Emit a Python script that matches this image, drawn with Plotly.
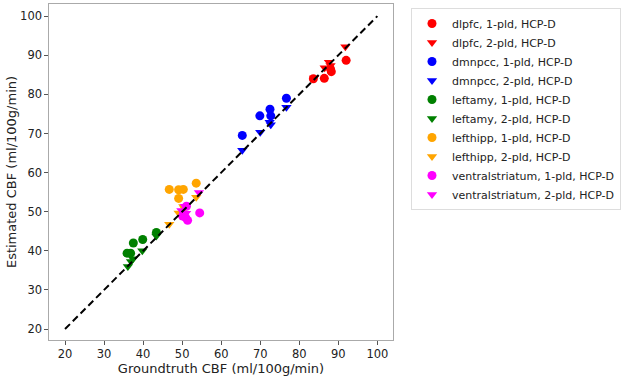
import plotly.graph_objects as go

# Groundtruth (x) and estimated (y) CBF values per region / pld
dlpfc_1_x = [83.6, 86.4, 88.2, 88.0, 92.0]
dlpfc_1_y = [84.0, 84.1, 85.8, 86.5, 88.7]
dlpfc_2_x = [83.8, 86.5, 87.6, 88.0, 91.8]
dlpfc_2_y = [84.2, 86.8, 88.2, 87.4, 92.2]

dmnpcc_1_x = [65.4, 69.9, 72.5, 72.7, 76.7]
dmnpcc_1_y = [69.5, 74.5, 76.2, 74.5, 79.0]
dmnpcc_2_x = [65.4, 70.0, 72.4, 72.7, 76.7]
dmnpcc_2_y = [65.7, 70.3, 72.9, 72.2, 76.7]

leftamy_1_x = [35.9, 36.8, 37.5, 39.9, 43.4]
leftamy_1_y = [39.4, 39.4, 42.0, 42.9, 44.7]
leftamy_2_x = [36.1, 36.9, 37.4, 39.8, 43.4]
leftamy_2_y = [36.0, 37.3, 38.0, 40.0, 43.8]

lefthipp_1_x = [46.7, 49.1, 50.3, 49.1, 53.6]
lefthipp_1_y = [55.7, 55.6, 55.7, 53.4, 57.3]
lefthipp_2_x = [46.7, 49.1, 50.3, 53.6, 50.6]
lefthipp_2_y = [46.8, 49.7, 51.3, 53.7, 50.8]

vs_1_x = [51.1, 54.5, 50.9, 50.1, 51.4]
vs_1_y = [51.4, 49.7, 48.5, 48.9, 47.8]
vs_2_x = [54.3, 50.7, 49.8, 51.0]
vs_2_y = [54.9, 51.4, 50.3, 49.6]

identity = [20, 100]

series = [
    ("dlpfc, 1-pld, HCP-D", dlpfc_1_x, dlpfc_1_y, "red", "circle"),
    ("dlpfc, 2-pld, HCP-D", dlpfc_2_x, dlpfc_2_y, "red", "triangle-down"),
    ("dmnpcc, 1-pld, HCP-D", dmnpcc_1_x, dmnpcc_1_y, "blue", "circle"),
    ("dmnpcc, 2-pld, HCP-D", dmnpcc_2_x, dmnpcc_2_y, "blue", "triangle-down"),
    ("leftamy, 1-pld, HCP-D", leftamy_1_x, leftamy_1_y, "green", "circle"),
    ("leftamy, 2-pld, HCP-D", leftamy_2_x, leftamy_2_y, "green", "triangle-down"),
    ("lefthipp, 1-pld, HCP-D", lefthipp_1_x, lefthipp_1_y, "orange", "circle"),
    ("lefthipp, 2-pld, HCP-D", lefthipp_2_x, lefthipp_2_y, "orange", "triangle-down"),
    ("ventralstriatum, 1-pld, HCP-D", vs_1_x, vs_1_y, "magenta", "circle"),
    ("ventralstriatum, 2-pld, HCP-D", vs_2_x, vs_2_y, "magenta", "triangle-down"),
]

fig = go.Figure()
for name, xs, ys, col, sym in series:
    fig.add_trace(go.Scatter(
        x=xs, y=ys, mode="markers", name=name,
        marker=dict(color=col, symbol=sym, size=9, line=dict(width=0)),
    ))

fig.add_trace(go.Scatter(
    x=identity, y=identity, mode="lines", showlegend=False,
    line=dict(color="black", width=2, dash="7px,4px"),
))

W, H = 622, 380
PL, PR, PT, PB = 49, 393, 4, 340  # plot-area pixel box

axis_common = dict(
    showgrid=False, zeroline=False, showline=True, mirror=True,
    linecolor="#aaaaaa", linewidth=1.3, automargin=False,
    ticks="outside", ticklen=3.5, tickcolor="#555555", tickwidth=1,
    tickfont=dict(size=11.5, color="#222222"),
    tickmode="array", tickvals=[20, 30, 40, 50, 60, 70, 80, 90, 100],
)

fig.update_layout(
    width=W, height=H,
    margin=dict(l=0, r=0, t=0, b=0, autoexpand=False),
    plot_bgcolor="white", paper_bgcolor="white",
    font=dict(family="DejaVu Sans", color="#222222"),
    xaxis=dict(range=[15.9, 104.0], domain=[PL / W, PR / W],
               title=dict(text="Groundtruth CBF (ml/100g/min)", font=dict(size=13), standoff=0),
               **axis_common),
    yaxis=dict(range=[17.2, 103.1], domain=[1 - PB / H, 1 - PT / H],
               title=dict(text="Estimated CBF (ml/100g/min)", font=dict(size=13), standoff=0),
               **axis_common),
    legend=dict(x=411 / W, y=1 - 8 / H, xanchor="left", yanchor="top",
                bordercolor="#dddddd", borderwidth=1, bgcolor="white",
                font=dict(size=11, color="#222222"), itemwidth=30,
                tracegroupgap=0),
    showlegend=True,
)

fig.write_html(
    "out.html",
    config={"displayModeBar": False},
    post_script="document.body.style.margin='0';document.body.style.overflow='hidden';",
)
